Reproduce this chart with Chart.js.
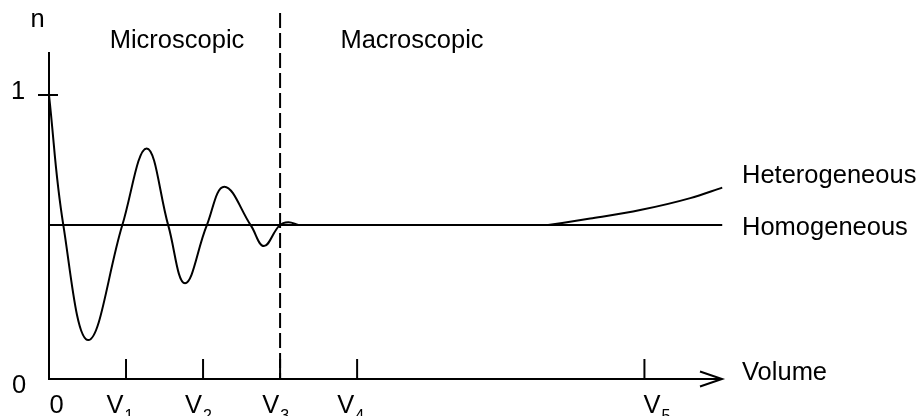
<!DOCTYPE html>
<html>
<head>
<meta charset="utf-8">
<title>REV sketch</title>
<script src="https://cdn.jsdelivr.net/npm/chart.js@4/dist/chart.umd.min.js"></script>
<style>
  html, body { margin: 0; padding: 0; background: #fff; }
  #chart { display: block; }
</style>
</head>
<body>
<canvas id="chart" width="924" height="416"></canvas>
<script>
// data (x in V-units, y is n)
// extrema and crossings of the fluctuating curve
const oscX = [0, 0.186, 0.51, 0.952, 1.268, 1.549, 1.766, 2.047, 2.276, 2.622, 2.79, 2.99, 3.107, 3.236];
const oscN = [1.0, 0.542, 0.137, 0.542, 0.812, 0.540, 0.337, 0.540, 0.677, 0.540, 0.468, 0.540, 0.552, 0.542];
const heteroX = [6.48, 7.026, 7.675, 8.325, 8.74];
const heteroN = [0.542, 0.565, 0.595, 0.637, 0.674];
const homoX = [0, 8.74];
const homoN = [0.542, 0.542];
const volumeTicks = [0, 1, 2, 3, 4, 7.73];
const tickBase = ['0', 'V', 'V', 'V', 'V', 'V'];
const tickSub = ['', '1', '2', '3', '4', '5'];
const boundaryV = 3; // micro / macro split

const FONT = '"Liberation Sans", Arial, sans-serif';
const labelNudge = [7.5, -6, -4.5, -4.5, -6.5, 12.5];

function pts(xs, ys) { return xs.map((x, i) => ({ x: x, y: ys[i] })); }

// axes, ticks, arrow, dashed boundary and all text
const sketchPlugin = {
  id: 'sketch',
  afterDatasetsDraw(chart) {
    const ctx = chart.ctx;
    const xs = chart.scales.x, ys = chart.scales.y;
    const area = chart.chartArea;
    const x0 = xs.getPixelForValue(0), y0 = ys.getPixelForValue(0);
    const xEnd = area.right - 1;

    ctx.save();
    ctx.strokeStyle = '#000';
    ctx.fillStyle = '#000';
    ctx.lineWidth = 2;

    // axes
    ctx.beginPath();
    ctx.moveTo(x0, area.top);
    ctx.lineTo(x0, y0);
    ctx.lineTo(xEnd, y0);
    ctx.stroke();
    // arrow head
    ctx.beginPath();
    ctx.moveTo(xEnd - 22, y0 - 7.5);
    ctx.lineTo(xEnd, y0);
    ctx.lineTo(xEnd - 22, y0 + 7.5);
    ctx.stroke();

    // x ticks (inside, upward)
    for (let i = 1; i < volumeTicks.length; i++) {
      const px = xs.getPixelForValue(volumeTicks[i]);
      ctx.beginPath();
      ctx.moveTo(px, y0);
      ctx.lineTo(px, y0 - 20);
      ctx.stroke();
    }
    // y tick at 1
    const y1 = ys.getPixelForValue(1);
    ctx.beginPath();
    ctx.moveTo(x0 - 11, y1);
    ctx.lineTo(x0 + 9, y1);
    ctx.stroke();

    // dashed boundary
    const xb = xs.getPixelForValue(boundaryV);
    ctx.setLineDash([15, 5]);
    ctx.beginPath();
    ctx.moveTo(xb, 13);
    ctx.lineTo(xb, y0);
    ctx.stroke();
    ctx.setLineDash([]);

    // x tick labels with subscripts
    ctx.textBaseline = 'alphabetic';
    ctx.textAlign = 'left';
    for (let i = 0; i < volumeTicks.length; i++) {
      const px = xs.getPixelForValue(volumeTicks[i]) + labelNudge[i];
      ctx.font = '25.5px ' + FONT;
      const wb = ctx.measureText(tickBase[i]).width;
      ctx.font = '16px ' + FONT;
      const ws = tickSub[i] ? ctx.measureText(tickSub[i]).width + 1 : 0;
      const start = px - (wb + ws) / 2;
      ctx.font = '25.5px ' + FONT;
      ctx.fillText(tickBase[i], start, 413);
      if (tickSub[i]) {
        ctx.font = '16px ' + FONT;
        ctx.fillText(tickSub[i], start + wb + 1, 421);
      }
    }

    // y labels
    ctx.font = '25.5px ' + FONT;
    ctx.textAlign = 'center';
    ctx.fillText('1', 18, 99);
    ctx.fillText('0', 19, 393);
    ctx.fillText('n', 37.5, 27);

    // region labels
    ctx.fillText('Microscopic', 177, 48);
    ctx.fillText('Macroscopic', 412, 48);

    // right side labels
    ctx.textAlign = 'left';
    ctx.fillText('Heterogeneous', 742, 183);
    ctx.fillText('Homogeneous', 742, 235);
    ctx.fillText('Volume', 742, 380);
    ctx.restore();
  }
};

const lineStyle = { borderColor: '#000', borderWidth: 2, pointRadius: 0, fill: false };

const chart = new Chart(document.getElementById('chart').getContext('2d'), {
  type: 'line',
  data: {
    datasets: [
      Object.assign({ label: 'Homogeneous', data: pts(homoX, homoN), tension: 0 }, lineStyle),
      Object.assign({ label: 'Fluctuation', data: pts(oscX, oscN), tension: 0.4 }, lineStyle),
      Object.assign({ label: 'Heterogeneous', data: pts(heteroX, heteroN), cubicInterpolationMode: 'monotone' }, lineStyle)
    ]
  },
  options: {
    responsive: false,
    animation: false,
    devicePixelRatio: 1,
    layout: { padding: { left: 49, right: 201, top: 52, bottom: 37 } },
    plugins: { legend: { display: false }, tooltip: { enabled: false } },
    scales: {
      x: { type: 'linear', min: 0, max: 8.75, display: false },
      y: { type: 'linear', min: 0, max: 1.1514, display: false }
    }
  },
  plugins: [sketchPlugin]
});
</script>
</body>
</html>
